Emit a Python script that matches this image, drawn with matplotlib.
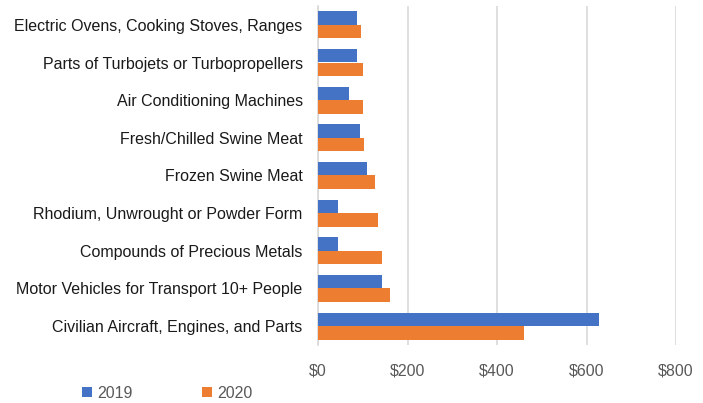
import matplotlib.pyplot as plt
import numpy as np

plt.rcParams['font.family'] = ['Liberation Sans', 'DejaVu Sans']

# categories listed top to bottom
categories = [
    "Electric Ovens, Cooking Stoves, Ranges",
    "Parts of Turbojets or Turbopropellers",
    "Air Conditioning Machines",
    "Fresh/Chilled Swine Meat",
    "Frozen Swine Meat",
    "Rhodium, Unwrought or Powder Form",
    "Compounds of Precious Metals",
    "Motor Vehicles for Transport 10+ People",
    "Civilian Aircraft, Engines, and Parts",
]
values_2019 = [88, 88, 69, 94, 110, 45, 45, 144, 628]
values_2020 = [96, 101, 101, 103, 127, 133, 144, 161, 460]
xticks = [0, 200, 400, 600, 800]
xtick_labels = ["$0", "$200", "$400", "$600", "$800"]

fig = plt.figure(figsize=(7.03, 4.03), dpi=100)
ax = fig.add_axes([318 / 703, 1 - 345 / 403, (676 - 318) / 703, (345 - 6) / 403])

y = np.arange(len(categories))
h = 0.36
ax.barh(y - h / 2, values_2019, height=h, color='#4472C4', label='2019', zorder=3)
ax.barh(y + h / 2, values_2020, height=h, color='#ED7D31', label='2020', zorder=3)

ax.set_ylim(len(categories) - 0.5, -0.5)
ax.set_xlim(0, 800)
ax.set_yticks(y)
ax.set_yticklabels(categories, fontsize=11.5, color='#1a1a1a')
ax.set_xticks(xticks)
ax.set_xticklabels(xtick_labels, fontsize=11.5, color='#595959')
ax.tick_params(axis='both', length=0)
ax.tick_params(axis='y', pad=11)
ax.tick_params(axis='x', pad=13)

ax.grid(axis='x', color='#D9D9D9', linewidth=1.2, zorder=0)
for s in ['top', 'right', 'bottom']:
    ax.spines[s].set_visible(False)
ax.spines['left'].set_color('#D9D9D9')
ax.spines['left'].set_linewidth(1.2)

fig.legend(loc='lower left', bbox_to_anchor=(68 / 703, -0.03), ncol=2, frameon=False,
           fontsize=11.5, handlelength=0.6, handleheight=0.6, columnspacing=4.4,
           handletextpad=0.3, labelcolor='#595959')

fig.savefig('out.png', dpi=100)
